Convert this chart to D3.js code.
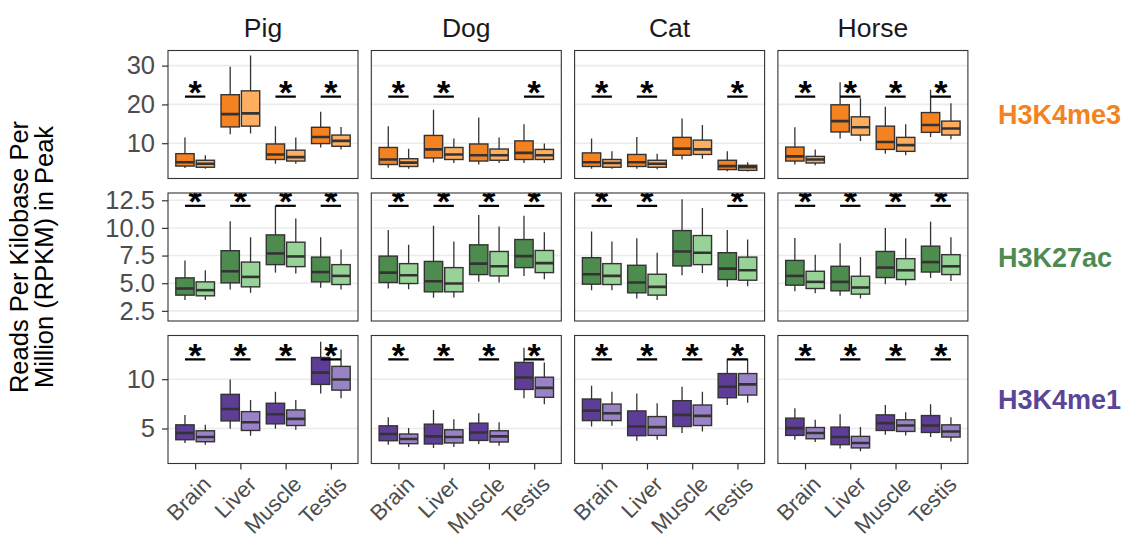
<!DOCTYPE html>
<html>
<head>
<meta charset="utf-8">
<script src="https://cdn.jsdelivr.net/npm/d3@7"></script>
<style>
  body { margin: 0; background: #fff; }
  text { font-family: "Liberation Sans", Arial, sans-serif; }
</style>
</head>
<body>
<div id="chart"></div>
<script>
// facet levels
var species = ["Pig", "Dog", "Cat", "Horse"];
var marks = ["H3K4me3", "H3K27ac", "H3K4me1"];
var tissues = ["Brain", "Liver", "Muscle", "Testis"];
var groups = ["g1", "g2"];

// box stats: species, tissue, group, whisker low, q1, median, q3, whisker high
var h3k4me3Boxes = [
  ["Pig", "Brain", "g1", 3.6, 4.1, 5.1, 7.3, 11.5], ["Pig", "Brain", "g2", 3.4, 3.8, 4.7, 5.6, 6.9],
  ["Pig", "Liver", "g1", 12.3, 14.2, 17.5, 22.5, 29.7], ["Pig", "Liver", "g2", 12.5, 14.4, 17.7, 23.5, 32.6],
  ["Pig", "Muscle", "g1", 4.7, 5.8, 7.1, 9.8, 14.4], ["Pig", "Muscle", "g2", 4.7, 5.4, 6.4, 8.2, 11.5],
  ["Pig", "Testis", "g1", 8.9, 9.9, 11.6, 14.1, 18.1], ["Pig", "Testis", "g2", 8.4, 9.2, 10.6, 12.1, 14.2],
  ["Dog", "Brain", "g1", 3.7, 4.5, 5.8, 8.9, 14.4], ["Dog", "Brain", "g2", 3.4, 4.0, 5.0, 6.0, 8.6],
  ["Dog", "Liver", "g1", 5.0, 6.2, 8.4, 12.0, 18.6], ["Dog", "Liver", "g2", 4.9, 5.8, 7.1, 8.9, 11.2],
  ["Dog", "Muscle", "g1", 4.5, 5.4, 6.9, 9.8, 16.6], ["Dog", "Muscle", "g2", 4.9, 5.6, 6.9, 8.5, 11.5],
  ["Dog", "Testis", "g1", 4.9, 5.8, 7.5, 10.6, 14.9], ["Dog", "Testis", "g2", 4.9, 5.8, 6.9, 8.4, 9.9],
  ["Cat", "Brain", "g1", 3.4, 4.0, 5.1, 7.5, 11.2], ["Cat", "Brain", "g2", 3.4, 3.8, 4.9, 5.8, 7.9],
  ["Cat", "Liver", "g1", 3.4, 4.0, 5.1, 7.1, 11.6], ["Cat", "Liver", "g2", 3.3, 3.8, 4.7, 5.6, 7.3],
  ["Cat", "Muscle", "g1", 5.8, 6.9, 8.6, 11.5, 16.4], ["Cat", "Muscle", "g2", 6.0, 7.1, 8.4, 10.8, 14.7],
  ["Cat", "Testis", "g1", 2.8, 3.2, 4.1, 5.6, 7.9], ["Cat", "Testis", "g2", 2.7, 3.0, 3.8, 4.3, 5.1],
  ["Horse", "Brain", "g1", 4.5, 5.4, 6.6, 9.0, 14.1], ["Horse", "Brain", "g2", 4.3, 4.9, 5.8, 6.6, 8.4],
  ["Horse", "Liver", "g1", 11.2, 12.9, 15.7, 19.9, 25.7], ["Horse", "Liver", "g2", 10.6, 12.1, 14.1, 16.8, 21.6],
  ["Horse", "Muscle", "g1", 7.3, 8.4, 10.3, 14.4, 19.4], ["Horse", "Muscle", "g2", 6.9, 7.9, 9.5, 11.5, 14.9],
  ["Horse", "Testis", "g1", 11.6, 12.8, 14.7, 17.9, 23.8], ["Horse", "Testis", "g2", 11.0, 12.1, 13.8, 15.7, 20.3]
];
var h3k27acBoxes = [
  ["Pig", "Brain", "g1", 3.47, 3.92, 4.52, 5.48, 7.06], ["Pig", "Brain", "g2", 3.47, 3.86, 4.37, 5.12, 6.17],
  ["Pig", "Liver", "g1", 4.43, 5.03, 6.08, 7.94, 10.6], ["Pig", "Liver", "g2", 4.13, 4.67, 5.57, 6.91, 9.16],
  ["Pig", "Muscle", "g1", 5.96, 6.68, 7.69, 9.37, 12.0], ["Pig", "Muscle", "g2", 5.87, 6.5, 7.42, 8.71, 10.86],
  ["Pig", "Testis", "g1", 4.58, 5.12, 6.01, 7.36, 9.16], ["Pig", "Testis", "g2", 4.43, 4.88, 5.66, 6.68, 8.05],
  ["Dog", "Brain", "g1", 4.52, 5.06, 5.96, 7.45, 9.82], ["Dog", "Brain", "g2", 4.46, 4.97, 5.72, 6.77, 8.47],
  ["Dog", "Liver", "g1", 3.68, 4.22, 5.18, 6.97, 10.2], ["Dog", "Liver", "g2", 3.71, 4.22, 4.97, 6.41, 8.77],
  ["Dog", "Muscle", "g1", 5.12, 5.78, 6.77, 8.47, 11.17], ["Dog", "Muscle", "g2", 5.06, 5.66, 6.53, 7.87, 10.14],
  ["Dog", "Testis", "g1", 5.66, 6.41, 7.45, 8.95, 11.1], ["Dog", "Testis", "g2", 5.36, 5.96, 6.82, 7.96, 9.61],
  ["Cat", "Brain", "g1", 4.37, 4.91, 5.81, 7.31, 9.67], ["Cat", "Brain", "g2", 4.37, 4.88, 5.66, 6.77, 8.77],
  ["Cat", "Liver", "g1", 3.62, 4.13, 5.06, 6.62, 9.07], ["Cat", "Liver", "g2", 3.47, 3.92, 4.67, 5.81, 7.76],
  ["Cat", "Muscle", "g1", 5.72, 6.56, 7.87, 9.76, 12.6], ["Cat", "Muscle", "g2", 5.92, 6.68, 7.76, 9.31, 11.8],
  ["Cat", "Testis", "g1", 4.67, 5.33, 6.32, 7.76, 9.82], ["Cat", "Testis", "g2", 4.73, 5.27, 6.17, 7.36, 8.95],
  ["Horse", "Brain", "g1", 4.28, 4.82, 5.66, 7.06, 9.1], ["Horse", "Brain", "g2", 4.08, 4.52, 5.12, 6.08, 7.58],
  ["Horse", "Liver", "g1", 3.86, 4.31, 5.12, 6.53, 8.62], ["Horse", "Liver", "g2", 3.62, 4.01, 4.61, 5.63, 7.36],
  ["Horse", "Muscle", "g1", 4.91, 5.51, 6.41, 7.87, 10.0], ["Horse", "Muscle", "g2", 4.82, 5.33, 6.17, 7.22, 9.07],
  ["Horse", "Testis", "g1", 5.48, 6.01, 6.91, 8.35, 10.57], ["Horse", "Testis", "g2", 5.21, 5.78, 6.53, 7.58, 9.16]
];
var h3k4me1Boxes = [
  ["Pig", "Brain", "g1", 3.53, 3.86, 4.54, 5.37, 6.38], ["Pig", "Brain", "g2", 3.36, 3.66, 4.13, 4.77, 5.37],
  ["Pig", "Liver", "g1", 4.97, 5.77, 6.98, 8.46, 9.97], ["Pig", "Liver", "g2", 4.27, 4.8, 5.64, 6.71, 7.89],
  ["Pig", "Muscle", "g1", 4.97, 5.47, 6.45, 7.56, 8.72], ["Pig", "Muscle", "g2", 4.87, 5.3, 5.98, 6.88, 7.89],
  ["Pig", "Testis", "g1", 8.56, 9.47, 10.67, 12.2, 13.8], ["Pig", "Testis", "g2", 8.06, 8.89, 9.97, 11.3, 13.0],
  ["Dog", "Brain", "g1", 3.36, 3.76, 4.44, 5.27, 6.15], ["Dog", "Brain", "g2", 3.13, 3.46, 3.93, 4.44, 5.04],
  ["Dog", "Liver", "g1", 3.03, 3.43, 4.2, 5.44, 6.88], ["Dog", "Liver", "g2", 3.13, 3.53, 4.13, 4.87, 5.94],
  ["Dog", "Muscle", "g1", 3.43, 3.79, 4.6, 5.54, 6.55], ["Dog", "Muscle", "g2", 3.26, 3.63, 4.2, 4.77, 5.64],
  ["Dog", "Testis", "g1", 8.06, 8.96, 10.17, 11.7, 13.2], ["Dog", "Testis", "g2", 7.45, 8.16, 9.12, 10.2, 11.68],
  ["Cat", "Brain", "g1", 5.2, 5.8, 6.81, 7.99, 9.33], ["Cat", "Brain", "g2", 5.27, 5.8, 6.55, 7.48, 8.72],
  ["Cat", "Liver", "g1", 3.76, 4.27, 5.2, 6.78, 8.56], ["Cat", "Liver", "g2", 3.86, 4.3, 5.14, 6.21, 7.56],
  ["Cat", "Muscle", "g1", 4.54, 5.2, 6.38, 7.82, 9.23], ["Cat", "Muscle", "g2", 4.7, 5.3, 6.28, 7.38, 8.72],
  ["Cat", "Testis", "g1", 7.38, 8.12, 9.23, 10.57, 12.08], ["Cat", "Testis", "g2", 7.62, 8.39, 9.47, 10.57, 12.08],
  ["Horse", "Brain", "g1", 3.86, 4.3, 5.04, 6.05, 7.05], ["Horse", "Brain", "g2", 3.63, 3.96, 4.54, 5.1, 5.88],
  ["Horse", "Liver", "g1", 2.96, 3.36, 4.13, 5.14, 6.45], ["Horse", "Liver", "g2", 2.69, 3.03, 3.53, 4.2, 5.14],
  ["Horse", "Muscle", "g1", 4.37, 4.8, 5.54, 6.38, 7.38], ["Horse", "Muscle", "g2", 4.3, 4.7, 5.3, 5.88, 6.65],
  ["Horse", "Testis", "g1", 4.13, 4.6, 5.3, 6.31, 7.45], ["Horse", "Testis", "g2", 3.69, 4.13, 4.7, 5.37, 6.15]
];

// significant comparisons (species, tissue) per mark, bracket height per mark
var h3k4me3Signif = [["Pig", "Brain"], ["Pig", "Muscle"], ["Pig", "Testis"],
  ["Dog", "Brain"], ["Dog", "Liver"], ["Dog", "Testis"],
  ["Cat", "Brain"], ["Cat", "Liver"], ["Cat", "Testis"],
  ["Horse", "Brain"], ["Horse", "Liver"], ["Horse", "Muscle"], ["Horse", "Testis"]];
var h3k27acSignif = [["Pig", "Brain"], ["Pig", "Liver"], ["Pig", "Muscle"], ["Pig", "Testis"],
  ["Dog", "Brain"], ["Dog", "Liver"], ["Dog", "Muscle"], ["Dog", "Testis"],
  ["Cat", "Brain"], ["Cat", "Liver"], ["Cat", "Testis"],
  ["Horse", "Brain"], ["Horse", "Liver"], ["Horse", "Muscle"], ["Horse", "Testis"]];
var h3k4me1Signif = [["Pig", "Brain"], ["Pig", "Liver"], ["Pig", "Muscle"], ["Pig", "Testis"],
  ["Dog", "Brain"], ["Dog", "Liver"], ["Dog", "Muscle"], ["Dog", "Testis"],
  ["Cat", "Brain"], ["Cat", "Liver"], ["Cat", "Muscle"], ["Cat", "Testis"],
  ["Horse", "Brain"], ["Horse", "Liver"], ["Horse", "Muscle"], ["Horse", "Testis"]];
var signifY = [22, 12, 12];

// y axis per row
var yDomains = [[0.9, 33.9], [1.58, 13.16], [1.45, 14.43]];
var yTicks = [[10, 20, 30], [2.5, 5, 7.5, 10, 12.5], [5, 10]];
var yFormats = ["d", ".1f", "d"];

var markColors = [["#F58220", "#FDAE61"], ["#4E8B4F", "#97D296"], ["#5E3D96", "#9A82C6"]];
var labelColors = ["#F58220", "#4E8B4F", "#5B4595"];

var boxesByMark = [h3k4me3Boxes, h3k27acBoxes, h3k4me1Boxes];
var signifByMark = [h3k4me3Signif, h3k27acSignif, h3k4me1Signif];

var svgWidth = 1129, svgHeight = 540;
var panelLeft = 168, panelTop = 50.5;
var panelW = 190, panelH = 128, gapX = 13.3, gapY = 14.5;

var svg = d3.select("#chart").append("svg")
  .attr("width", svgWidth)
  .attr("height", svgHeight);

var x = d3.scalePoint().domain(tissues).range([0, panelW]).padding(0.6);
var step = x.step();
var boxW = 0.405 * step;
var dodge = d3.scalePoint().domain(groups).range([-0.225 * step, 0.225 * step]);

marks.forEach(function(mark, r) {
  var y = d3.scaleLinear().domain(yDomains[r]).range([panelH, 0]);
  var py = panelTop + r * (panelH + gapY);

  species.forEach(function(sp, c) {
    var px = panelLeft + c * (panelW + gapX);
    var clipId = "clip-" + r + "-" + c;
    svg.append("clipPath").attr("id", clipId)
      .append("rect").attr("width", panelW).attr("height", panelH);

    var g = svg.append("g").attr("transform", "translate(" + px + "," + py + ")");
    var inner = g.append("g").attr("clip-path", "url(#" + clipId + ")");

    // grid
    inner.selectAll(".grid").data(yTicks[r]).enter().append("line")
      .attr("x1", 0).attr("x2", panelW)
      .attr("y1", function(d) { return y(d); })
      .attr("y2", function(d) { return y(d); })
      .attr("stroke", "#EBEBEB").attr("stroke-width", 1.6);

    var boxes = boxesByMark[r].filter(function(d) { return d[0] === sp; });
    var bg = inner.selectAll(".box").data(boxes).enter().append("g");
    var cx = function(d) { return x(d[1]) + dodge(d[2]); };

    bg.append("line")
      .attr("x1", cx).attr("x2", cx)
      .attr("y1", function(d) { return y(d[3]); })
      .attr("y2", function(d) { return y(d[7]); })
      .attr("stroke", "#333333").attr("stroke-width", 1.3);
    bg.append("rect")
      .attr("x", function(d) { return cx(d) - boxW / 2; })
      .attr("width", boxW)
      .attr("y", function(d) { return y(d[6]); })
      .attr("height", function(d) { return y(d[4]) - y(d[6]); })
      .attr("fill", function(d) { return markColors[r][groups.indexOf(d[2])]; })
      .attr("stroke", "#333333").attr("stroke-width", 1.4);
    bg.append("line")
      .attr("x1", function(d) { return cx(d) - boxW / 2; })
      .attr("x2", function(d) { return cx(d) + boxW / 2; })
      .attr("y1", function(d) { return y(d[5]); })
      .attr("y2", function(d) { return y(d[5]); })
      .attr("stroke", "#333333").attr("stroke-width", 2.6);

    // significance bars
    var sig = signifByMark[r].filter(function(d) { return d[0] === sp; });
    var sg = inner.selectAll(".sig").data(sig).enter().append("g");
    sg.append("line")
      .attr("x1", function(d) { return x(d[1]) + dodge("g1"); })
      .attr("x2", function(d) { return x(d[1]) + dodge("g2"); })
      .attr("y1", y(signifY[r])).attr("y2", y(signifY[r]))
      .attr("stroke", "#000").attr("stroke-width", 2.2);
    sg.append("text")
      .attr("x", function(d) { return x(d[1]); })
      .attr("y", y(signifY[r]) + 7.5)
      .attr("text-anchor", "middle")
      .attr("font-size", 34)
      .attr("font-weight", "bold")
      .attr("fill", "#000")
      .text("*");

    // border
    g.append("rect").attr("width", panelW).attr("height", panelH)
      .attr("fill", "none").attr("stroke", "#333333").attr("stroke-width", 1.1);

    // left axis only for first column
    if (c === 0) {
      var ax = g.append("g")
        .call(d3.axisLeft(y).tickValues(yTicks[r]).tickFormat(d3.format(yFormats[r])).tickSize(6).tickPadding(7));
      ax.select(".domain").remove();
      ax.selectAll("line").attr("stroke", "#333333").attr("stroke-width", 1.2);
      ax.selectAll("text").attr("font-size", 25.5).attr("fill", "#4D4D4D")
        .attr("font-family", "Liberation Sans, Arial, sans-serif");
    }

    // bottom axis for last row
    if (r === marks.length - 1) {
      var bx = g.append("g").attr("transform", "translate(0," + panelH + ")")
        .call(d3.axisBottom(x).tickSize(6).tickFormat(""));
      bx.select(".domain").remove();
      bx.selectAll("line").attr("stroke", "#333333").attr("stroke-width", 1.2);
      g.selectAll(".xlab").data(tissues).enter().append("text")
        .attr("transform", function(d) { return "translate(" + (x(d) + 6) + "," + (panelH + 11) + ") rotate(-45)"; })
        .attr("text-anchor", "end")
        .attr("dy", "0.72em")
        .attr("font-size", 22)
        .attr("fill", "#4D4D4D")
        .text(function(d) { return d; });
    }

    // top strip
    if (r === 0) {
      g.append("text")
        .attr("x", panelW / 2).attr("y", -14)
        .attr("text-anchor", "middle")
        .attr("font-size", 26.5)
        .attr("fill", "#1A1A1A")
        .text(sp);
    }
  });

  // right strip
  svg.append("text")
    .attr("x", 998)
    .attr("y", py + panelH / 2)
    .attr("dy", "0.36em")
    .attr("font-size", 27)
    .attr("font-weight", "bold")
    .attr("fill", labelColors[r])
    .text(mark);
});

// y axis title
var yTitle = svg.append("text")
  .attr("transform", "translate(33," + (panelTop + (3 * panelH + 2 * gapY) / 2) + ") rotate(-90)")
  .attr("text-anchor", "middle")
  .attr("font-size", 25.5)
  .attr("fill", "#000");
yTitle.append("tspan").attr("x", 0).attr("dy", "-0.2em").text("Reads Per Kilobase Per");
yTitle.append("tspan").attr("x", 0).attr("dy", "1.0em").text("Million (RPKM) in Peak");
</script>
</body>
</html>
